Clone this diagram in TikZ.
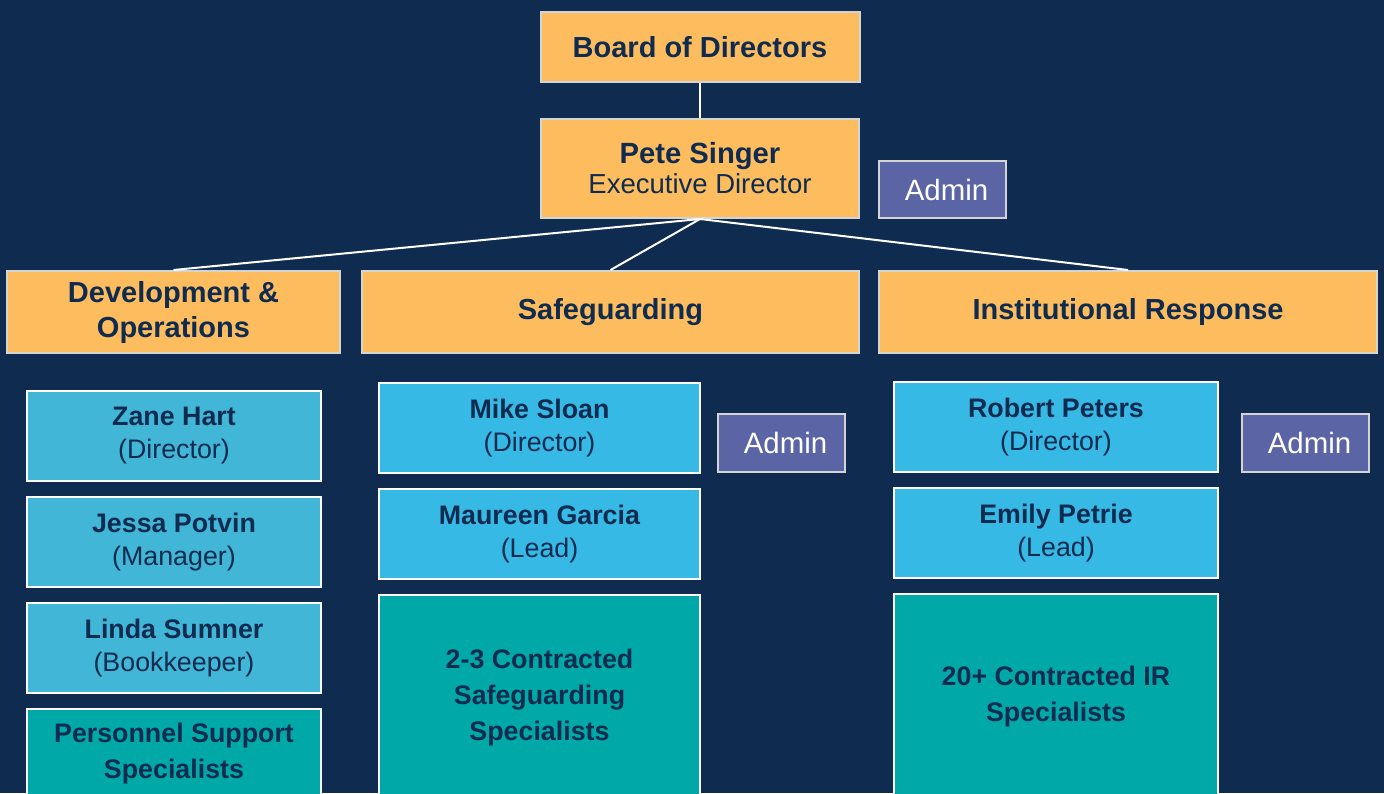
\documentclass[tikz,border=0pt]{standalone}
\usepackage{fontspec}
\setmainfont{Liberation Sans}
\usetikzlibrary{positioning}

\definecolor{bgnavy}{HTML}{0F2B50}
\definecolor{inknavy}{HTML}{0F2B50}
\definecolor{unitorange}{HTML}{FDBD5E}
\definecolor{staffblue}{HTML}{37B9E5}
\definecolor{opsblue}{HTML}{41B6D6}
\definecolor{specteal}{HTML}{00A8A8}
\definecolor{adminpurple}{HTML}{5B65A5}
\definecolor{paleline}{HTML}{D4D4D4}

\begin{document}
\begin{tikzpicture}[
x=0.5pt,
y=-0.5pt,
box/.style={
  rectangle,
  inner sep=0pt,
  align=center,
  line width=1pt,
  text=inknavy
  },
unit/.style={
  box,
  draw=paleline,
  fill=unitorange,
  minimum height=41pt,
  font=\fontsize{14.5}{17.5}\selectfont\bfseries
  },
staff/.style={
  box,
  draw=white,
  fill=staffblue,
  minimum width=160.5pt,
  minimum height=45pt,
  font=\fontsize{13.4}{16.5}\selectfont
  },
spec/.style={
  box,
  draw=white,
  fill=specteal,
  minimum width=160.5pt,
  font=\fontsize{13.4}{18}\selectfont\bfseries
  },
admin/.style={
  box,
  draw=paleline,
  fill=adminpurple,
  minimum width=63.5pt,
  minimum height=29pt,
  text=white,
  font=\fontsize{14.7}{17}\selectfont
  },
conn/.style={
  draw=white,
  line width=1pt
  }
]
\useasboundingbox (0,0) rectangle (1384,793);
\clip (0,0) rectangle (1384,793);
\fill[bgnavy] (0,0) rectangle (1384,793);

% top of the tree
\node[unit, minimum width=159.5pt, minimum height=35pt] (board) at (700,47) {Board of Directors};
\node[unit, minimum width=159pt, minimum height=49.5pt, font=\fontsize{13.75}{15}\selectfont] (exec) at (700,168.5)
  {{\fontsize{14.6}{15}\selectfont\bfseries Pete Singer}\\Executive Director};
\node[admin, minimum height=28.5pt] (adminExec) at (942.5,189.5) {\hspace{4pt}Admin};

% departments
\node[unit, minimum width=166.5pt] (devops) at (173.5,312) {Development \&\\Operations};
\node[unit, minimum width=248.5pt] (safe) at (610.5,312) {Safeguarding};
\node[unit, minimum width=249pt] (inst) at (1128,312) {Institutional Response};

% development & operations
\node[staff, fill=opsblue, minimum width=147pt] (zane) at (174,436) {\textbf{Zane Hart}\\(Director)};
\node[staff, fill=opsblue, minimum width=147pt] (jessa) at (174,542) {\textbf{Jessa Potvin}\\(Manager)};
\node[staff, fill=opsblue, minimum width=147pt] (linda) at (174,648) {\textbf{Linda Sumner}\\(Bookkeeper)};
\node[spec, minimum width=147pt, minimum height=45pt] (personnel) at (174,754) {Personnel Support\\Specialists};

% safeguarding
\node[staff] (mike) at (539.5,428) {\textbf{Mike Sloan}\\(Director)};
\node[staff] (maureen) at (539.5,534) {\textbf{Maureen Garcia}\\(Lead)};
\node[spec, minimum height=102.5pt] (sgspec) at (539.5,697.5) {2-3 Contracted\\Safeguarding\\Specialists};
\node[admin] (adminSafe) at (781.5,443) {\hspace{4pt}Admin};

% institutional response
\node[staff, minimum width=162pt] (robert) at (1056,427) {\textbf{Robert Peters}\\(Director)};
\node[staff, minimum width=162pt] (emily) at (1056,533) {\textbf{Emily Petrie}\\(Lead)};
\node[spec, minimum width=162pt, minimum height=102.5pt] (irspec) at (1056,696.5) {20+ Contracted IR\\Specialists};
\node[admin] (adminIR) at (1305.5,443) {\hspace{4pt}Admin};

% reporting lines
\draw[conn] (board) -- (exec);
\foreach \dept in {devops,safe,inst}
  \draw[conn] (exec.south) -- (\dept.north);
\end{tikzpicture}
\end{document}
